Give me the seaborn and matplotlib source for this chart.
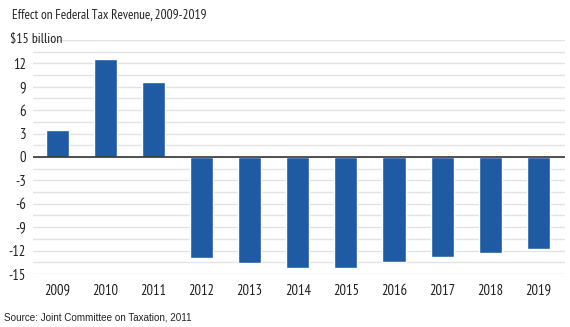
import matplotlib
matplotlib.use("Agg")
import matplotlib.pyplot as plt
import seaborn as sns
import pandas as pd
import numpy as np

years = ["2009", "2010", "2011", "2012", "2013", "2014", "2015", "2016", "2017", "2018", "2019"]
values = [3.4, 12.6, 9.6, -12.9, -13.6, -14.2, -14.2, -13.5, -12.8, -12.3, -11.8]
ytick_values = [-15, -12, -9, -6, -3, 0, 3, 6, 9, 12]
ytick_labels = ["-15", "-12", "-9", "-6", "-3", "0", "3", "6", "9", "12"]
top_label = "$15 billion"
title = "Effect on Federal Tax Revenue, 2009-2019"
source = "Source: Joint Committee on Taxation, 2011"

sns.set_style("white")
cond = ["PT Sans Narrow", "DejaVu Sans"]
plt.rcParams["font.family"] = cond

df = pd.DataFrame({"year": years, "value": values})

fig = plt.figure(figsize=(5.7, 3.27), dpi=100)
ax = fig.add_axes([0.058, 0.162, 0.933, 0.716])

# light gridlines every 1.5
for g in np.arange(-15, 15.01, 1.5):
    ax.axhline(g, color="#e3e3e3", lw=1.0, zorder=0)

sns.barplot(data=df, x="year", y="value", color="#1f5ba3", width=0.48,
            saturation=1, ax=ax, zorder=2)
ax.axhline(0, color="#333333", lw=1.2, zorder=3)

ax.set_ylim(-15, 15)
ax.set_xlim(-0.5, 10.55)
ax.set_yticks(ytick_values)
ax.set_yticklabels(ytick_labels, fontsize=10.5, color="#222222")
ax.set_xticks(range(len(years)))
ax.set_xticklabels(years, fontsize=10.5, color="#222222")
ax.tick_params(axis="y", length=0, pad=5)
ax.tick_params(axis="x", length=0, pad=7)
ax.set_xlabel("")
ax.set_ylabel("")
for s in ax.spines.values():
    s.set_visible(False)

fig.text(10 / 570, 1 - 40 / 327, top_label, fontsize=10, color="#222222",
         ha="left", va="center", family=cond)
fig.text(12 / 570, 1 - 15 / 327, title, fontsize=9.5, color="#222222",
         ha="left", va="center", family=cond)
fig.text(4 / 570, 1 - 317 / 327, source, fontsize=7.1, color="#222222",
         ha="left", va="center", family=["Liberation Sans", "DejaVu Sans"])

fig.savefig("out.png", dpi=100)
